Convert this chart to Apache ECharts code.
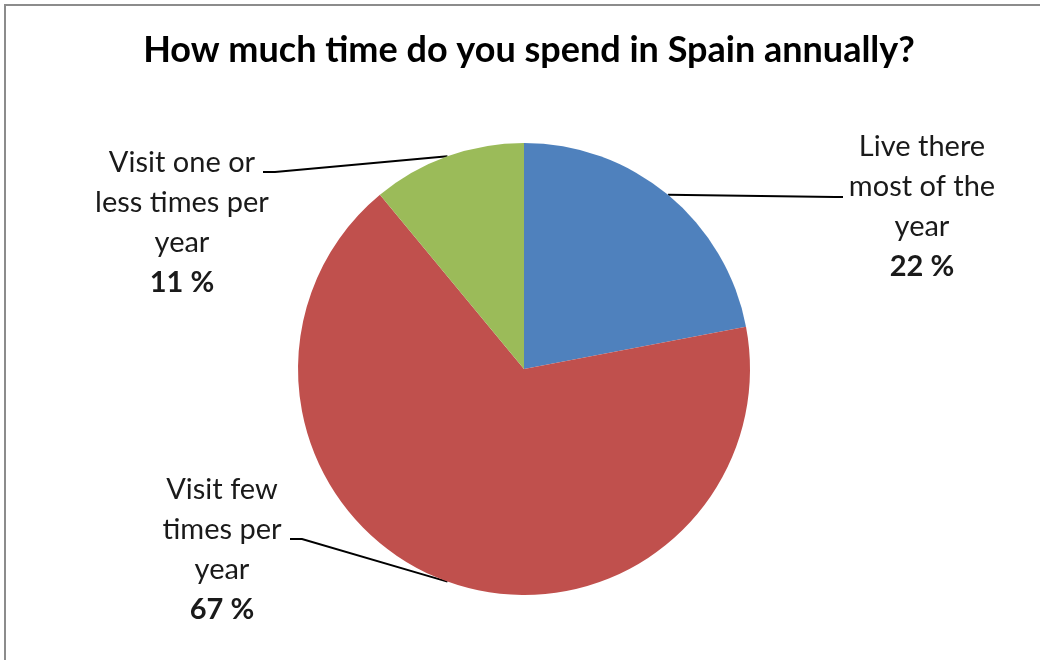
<!DOCTYPE html>
<html>
<head>
<meta charset="utf-8">
<script src="https://cdn.jsdelivr.net/npm/echarts@6/dist/echarts.min.js"></script>
<style>
  html, body { margin: 0; padding: 0; background: #fff; }
  #chart { width: 1040px; height: 660px; }
</style>
</head>
<body>
<div id="chart"></div>
<script>
// Survey answers, in clockwise order from 12 o'clock
const categories = ['Live there most of the year', 'Visit few times per year', 'Visit one or less times per year'];
const labelTexts = ['Live there\nmost of the\nyear', 'Visit few\ntimes per\nyear', 'Visit one or\nless times per\nyear'];
const shares = [22, 67, 11];
const colors = ['#4F81BD', '#C0504D', '#9BBB59'];

const FONT = 'Lato, "Open Sans", sans-serif';

// Where each callout text block sits (centre x, top y) and where its leader line ends
const calloutPlacement = [
  { x: 922, y: 127, elbow: [835, 197], end: [843, 197] },
  { x: 222, y: 470, elbow: [302, 539], end: [290, 539] },
  { x: 182, y: 143, elbow: [275, 172], end: [263, 172] }
];

const chart = echarts.init(document.getElementById('chart'), null, { renderer: 'canvas' });

chart.setOption({
  backgroundColor: '#fff',
  animation: false,
  title: {
    text: 'How much time do you spend in Spain annually?',
    left: 524,
    top: 27,
    textAlign: 'center',
    textStyle: { fontFamily: FONT, fontWeight: 'bold', fontSize: 36, color: '#000' }
  },
  graphic: [{
    type: 'rect',
    shape: { x: 5, y: 5, width: 1100, height: 700 },
    style: { fill: 'none', stroke: '#8c8c8c', lineWidth: 2 },
    silent: true
  }],
  series: [{
    type: 'pie',
    center: [524, 369],
    radius: 226,
    startAngle: 90,
    clockwise: true,
    avoidLabelOverlap: false,
    itemStyle: { borderWidth: 0 },
    data: categories.map((name, i) => ({
      name: name,
      value: shares[i],
      itemStyle: { color: colors[i] }
    })),
    label: {
      show: true,
      position: 'outside',
      fontFamily: FONT,
      fontSize: 29,
      lineHeight: 40,
      color: '#1a1a1a',
      align: 'center',
      formatter: p => labelTexts[p.dataIndex] + '\n{p|' + p.value + ' %}',
      rich: {
        p: { fontFamily: FONT, fontSize: 29, fontWeight: 'bold', lineHeight: 40, color: '#1a1a1a' }
      }
    },
    labelLine: {
      show: true,
      lineStyle: { color: '#000', width: 2 }
    },
    labelLayout: function (params) {
      const c = calloutPlacement[params.dataIndex];
      const start = params.labelLinePoints[0];
      return {
        x: c.x,
        y: c.y,
        align: 'center',
        verticalAlign: 'top',
        labelLinePoints: [start, c.elbow, c.end]
      };
    }
  }]
});
</script>
</body>
</html>
